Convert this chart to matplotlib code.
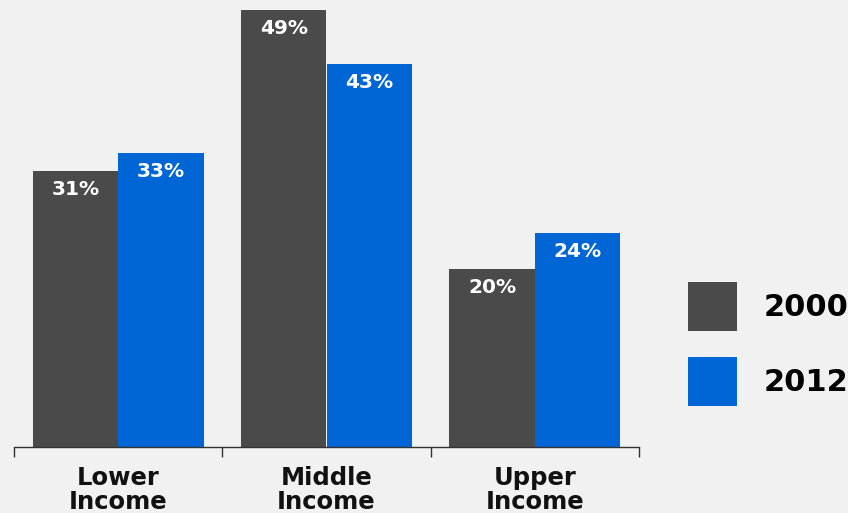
import matplotlib.pyplot as plt
import numpy as np

# datos
categories = ["Lower\nIncome", "Middle\nIncome", "Upper\nIncome"]
years = ["2000", "2012"]
values_2000 = [31, 49, 20]
values_2012 = [33, 43, 24]

COLOR_2000 = "#4b4a4a"
COLOR_2012 = "#0066d5"
BG = "#f1f1f1"

fig = plt.figure(figsize=(8.48, 5.13), dpi=100, facecolor=BG)
ax = fig.add_axes([14 / 848, 66 / 513, 625 / 848, 447 / 513])
ax.set_facecolor(BG)

x = np.arange(len(categories))
w = 0.41

b1 = ax.bar(x - w / 2, values_2000, w, color=COLOR_2000, label=years[0])
b2 = ax.bar(x + w / 2, values_2012, w, color=COLOR_2012, label=years[1])

# etiquetas de valor dentro de cada barra
for bars, vals in ((b1, values_2000), (b2, values_2012)):
    for rect, v in zip(bars, vals):
        ax.text(rect.get_x() + rect.get_width() / 2, v - 2.05, f"{v}%",
                ha="center", va="center", color="white",
                fontsize=14.5, fontweight="bold")

ax.set_xlim(-0.5, 2.5)
ax.set_ylim(0, 50.17)

for s in ("top", "right", "left"):
    ax.spines[s].set_visible(False)
ax.spines["bottom"].set_color("#333333")
ax.spines["bottom"].set_linewidth(1.0)

ax.set_yticks([])
ax.set_xticks(x)
ax.set_xticklabels(categories, fontsize=17.5, fontweight="bold",
                   color="#111111", linespacing=1.0)
ax.tick_params(axis="x", which="major", length=0, pad=14)
ax.set_xticks([-0.5, 0.5, 1.5, 2.5], minor=True)
ax.tick_params(axis="x", which="minor", length=7, width=1.0, color="#333333",
               direction="out")

fig.legend(handles=[b1, b2], labels=years, loc="upper left",
           bbox_to_anchor=(688 / 848, 1 - 282 / 513), frameon=False,
           prop={"weight": "bold", "size": 22},
           handlelength=1.6, handleheight=2.1, handletextpad=0.88,
           labelspacing=0.85, borderpad=0, borderaxespad=0)

fig.savefig("out.png", dpi=100, facecolor=BG)
